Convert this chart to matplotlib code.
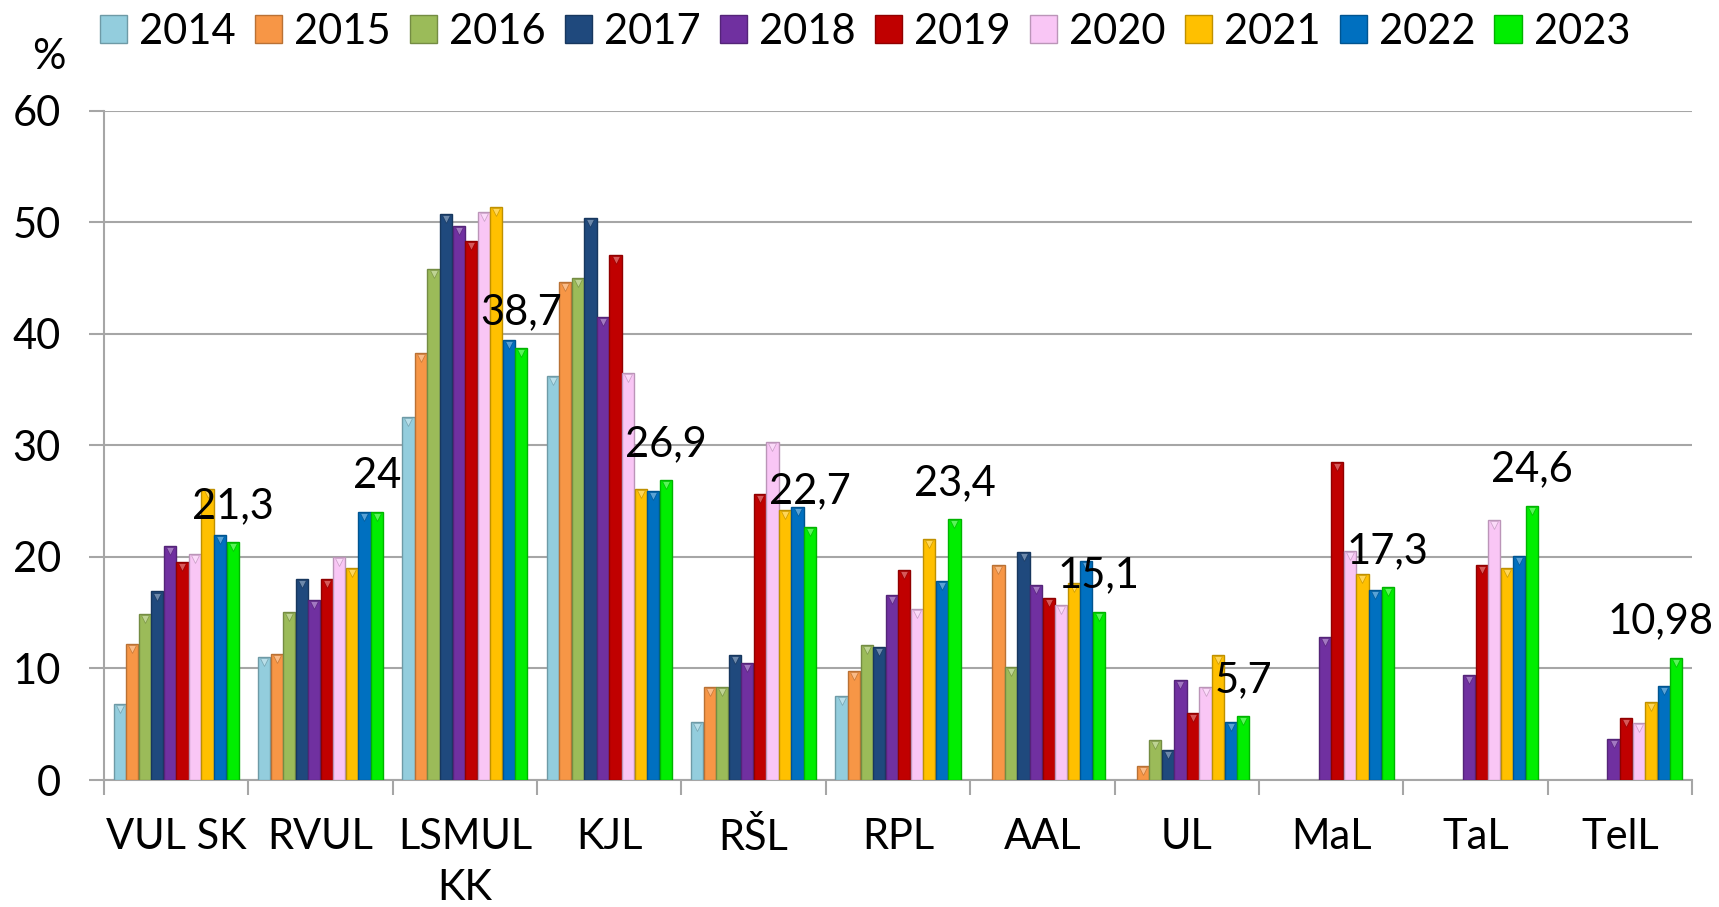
import numpy as np
import matplotlib
matplotlib.use('Agg')
import matplotlib.pyplot as plt
import matplotlib.patches as mpatches
from matplotlib.colors import to_rgb

plt.rcParams['font.family'] = ['Lato', 'DejaVu Sans']

CATEGORIES = ['VUL SK', 'RVUL', 'LSMUL\nKK', 'KJL', 'RŠL', 'RPL',
              'AAL', 'UL', 'MaL', 'TaL', 'TelL']
YEARS = ['2014', '2015', '2016', '2017', '2018',
         '2019', '2020', '2021', '2022', '2023']

nan = np.nan
v2014 = [6.8, 11.0, 32.5, 36.2, 5.2, 7.5, nan, nan, nan, nan, nan]
v2015 = [12.2, 11.3, 38.3, 44.6, 8.3, 9.8, 19.3, 1.3, nan, nan, nan]
v2016 = [14.9, 15.1, 45.8, 45.0, 8.3, 12.1, 10.1, 3.6, nan, nan, nan]
v2017 = [16.9, 18.0, 50.7, 50.4, 11.2, 11.9, 20.4, 2.7, nan, nan, nan]
v2018 = [21.0, 16.1, 49.7, 41.5, 10.5, 16.6, 17.5, 9.0, 12.8, 9.4, 3.7]
v2019 = [19.5, 18.0, 48.3, 47.1, 25.6, 18.8, 16.3, 6.0, 28.5, 19.3, 5.6]
v2020 = [20.3, 20.0, 50.9, 36.5, 30.3, 15.3, 15.7, 8.3, 20.5, 23.3, 5.1]
v2021 = [26.1, 19.0, 51.4, 26.1, 24.2, 21.6, 17.7, 11.2, 18.5, 19.0, 7.0]
v2022 = [22.0, 24.0, 39.4, 25.9, 24.5, 17.8, 19.6, 5.2, 17.0, 20.1, 8.4]
v2023 = [21.3, 24.0, 38.7, 26.9, 22.7, 23.4, 15.1, 5.7, 17.3, 24.6, 10.98]

SERIES = [v2014, v2015, v2016, v2017, v2018, v2019, v2020, v2021, v2022, v2023]

COLORS = ['#93cddd', '#f79646', '#9bbb59', '#1f497d', '#7030a0',
          '#c00000', '#f9c6f5', '#ffc000', '#0070c0', '#00ee00']

GRID = '#a6a6a6'
FS = 30


def shade(c, f):
    r, g, b = to_rgb(c)
    return (r * f, g * f, b * f)


def lighten(c, f):
    r, g, b = to_rgb(c)
    return (r + (1 - r) * f, g + (1 - g) * f, b + (1 - b) * f)


fig = plt.figure(figsize=(17.19, 9.07), dpi=100)
ax = fig.add_axes([0.0605, 0.140, 0.9238, 0.738])

n = len(SERIES)
width = 1 / 11.5
x = np.arange(len(CATEGORIES))

for i, (vals, col) in enumerate(zip(SERIES, COLORS)):
    vals = np.array(vals, dtype=float)
    xs = x + (i - (n - 1) / 2) * width
    ok = ~np.isnan(vals)
    ax.bar(xs[ok], vals[ok], width=width * 0.97, color=col,
           edgecolor=shade(col, 0.75), linewidth=1.0, zorder=3)
    # small bevel triangle at the top of each bar
    ax.plot(xs[ok], vals[ok] - 0.45, linestyle='none', marker='v',
            markersize=6, color=lighten(col, 0.35),
            markeredgecolor=shade(col, 0.8), markeredgewidth=0.5, zorder=4)

# data labels for the last series
last = np.array(v2023, dtype=float)
xs_last = x + (n - 1 - (n - 1) / 2) * width
for j, (xx, v) in enumerate(zip(xs_last, last)):
    txt = f'{v:g}'.replace('.', ',')
    dx = -16 if j == len(last) - 1 else 0
    ax.annotate(txt, (xx, v), textcoords='offset pixels', xytext=(dx, 24),
                ha='center', va='baseline', fontsize=FS, color='black',
                zorder=6, annotation_clip=False)

ax.set_xlim(-0.5, len(CATEGORIES) - 0.5)
ax.set_ylim(0, 60)
ax.set_yticks(np.arange(0, 61, 10))
ax.yaxis.grid(True, color=GRID, linewidth=1.5, zorder=0)
ax.set_axisbelow(True)

ax.set_xticks(x)
ax.set_xticklabels(CATEGORIES, fontsize=FS, linespacing=1.45)
ax.set_xticks(np.arange(-0.5, len(CATEGORIES), 1), minor=True)
ax.tick_params(axis='x', which='major', length=0, pad=27)
ax.tick_params(axis='x', which='minor', length=11, width=1.5, color=GRID)
ax.tick_params(axis='y', length=11, width=1.5, color=GRID, pad=20,
               labelsize=FS)

for s in ['top', 'right']:
    ax.spines[s].set_visible(False)
for s in ['left', 'bottom']:
    ax.spines[s].set_color(GRID)
    ax.spines[s].set_linewidth(1.5)

fig.text(0.0285, 0.937, '%', fontsize=FS, ha='center', va='center')

handles = [mpatches.Patch(facecolor=c, edgecolor=shade(c, 0.75), label=y)
           for y, c in zip(YEARS, COLORS)]
fig.legend(handles=handles, loc='center left', bbox_to_anchor=(0.0582, 0.965),
           ncol=10, frameon=False, fontsize=FS, handlelength=0.65,
           handleheight=0.67, handletextpad=0.29, columnspacing=0.46,
           borderpad=0, borderaxespad=0)

fig.savefig('out.png', dpi=100)
